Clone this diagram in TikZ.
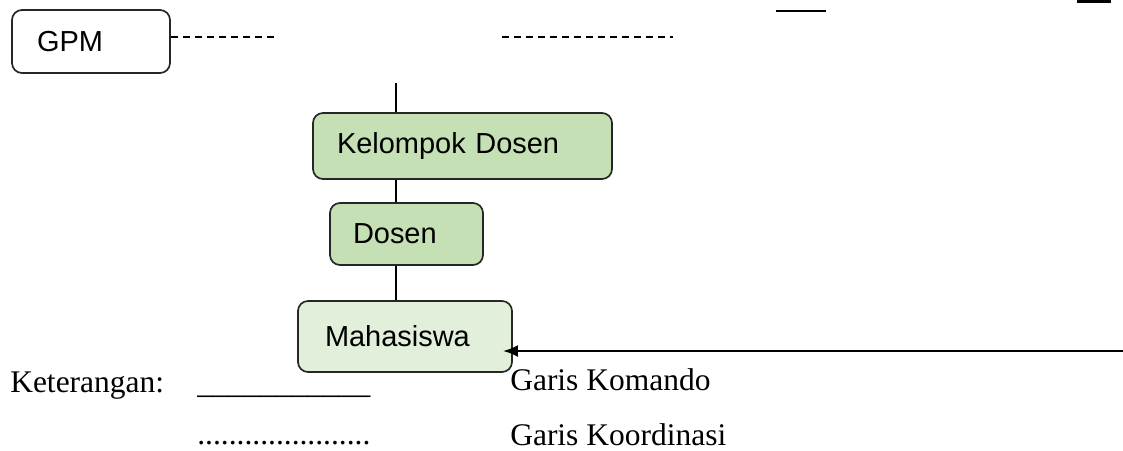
\documentclass[tikz,border=0pt]{standalone}
\usepackage{fontspec}
\setmainfont{Liberation Serif}
\newfontfamily\arialfont{Liberation Sans}
\usepackage{tikz}
\usetikzlibrary{shapes,arrows.meta,positioning}
\definecolor{dgreen}{RGB}{197,224,180}
\definecolor{lgreen}{RGB}{226,239,218}
\tikzstyle{rbox} = [rectangle, rounded corners=0.25cm, draw=black!85, line width=1.2pt, align=left, font=\arialfont\fontsize{20.6}{24}\selectfont]
\tikzstyle{line} = [draw, line width=1.2pt]
\tikzstyle{dline} = [draw, line width=1.3pt, dash pattern=on 0.175cm off 0.125cm]
\tikzstyle{ket} = [anchor=base west, inner sep=0pt, font=\fontsize{22.4}{27}\selectfont]

\begin{document}
\begin{tikzpicture}
			\useasboundingbox (0,0) rectangle (28.075,-11.25);
			\node [rbox, fill=white, text width=2.7cm, inner xsep=0.625cm, minimum height=1.575cm] (gpm) at (2.275,-1.0375) {GPM};
			\node [rbox, fill=dgreen, text width=6.275cm, inner xsep=0.6cm, minimum height=1.65cm] (kel) at (11.5625,-3.65) {Kelompok Dosen};
			\node [rbox, fill=dgreen, text width=2.675cm, inner xsep=0.575cm, minimum height=1.55cm] (dos) at (10.1625,-5.85) {Dosen};
			\node [rbox, fill=lgreen, text width=4cm, inner xsep=0.675cm, minimum height=1.775cm] (mhs) at (10.125,-8.4125) {Mahasiswa};

			\coordinate (vtop) at (9.9,-2.075);
			\coordinate (d1end) at (6.95,-0.93);
			\coordinate (d2a) at (12.55,-0.93);
			\coordinate (d2b) at (16.825,-0.93);
			\coordinate (s1a) at (19.4,-0.275);
			\coordinate (s1b) at (20.65,-0.275);
			\coordinate (s2a) at (26.925,-0.04);
			\coordinate (s2b) at (27.775,-0.04);
			\coordinate (atail) at (28.075,-8.775);

			\path [line] (vtop) -- (vtop |- kel.north);
			\path [line] (kel.south -| vtop) -- (dos.north -| vtop);
			\path [line] (dos.south -| vtop) -- (mhs.north -| vtop);
			\path [dline] (gpm.east |- d1end) -- (d1end);
			\path [dline] (d2a) -- (d2b);
			\path [line, line width=1.6pt] (s1a) -- (s1b);
			\path [line, line width=1.6pt] (s2a) -- (s2b);
			\path [line, line width=1.9pt, -{Latex[length=0.375cm, width=0.3cm]}, shorten >=-0.25cm] (atail) -- (atail -| mhs.east);

			\node [ket] (ket) at (0.25,-9.8) {Keterangan:};
			\node [ket] (kom) at (4.925,-9.825) {\_\_\_\_\_\_\_\_\_\_\_};
			\node [ket] (komt) at (12.75,-9.75) {Garis Komando};
			\node [ket] (koo) at (4.925,-11.1) {......................};
			\node [ket] (koot) at (12.75,-11.125) {Garis Koordinasi};
		\end{tikzpicture}
\end{document}
